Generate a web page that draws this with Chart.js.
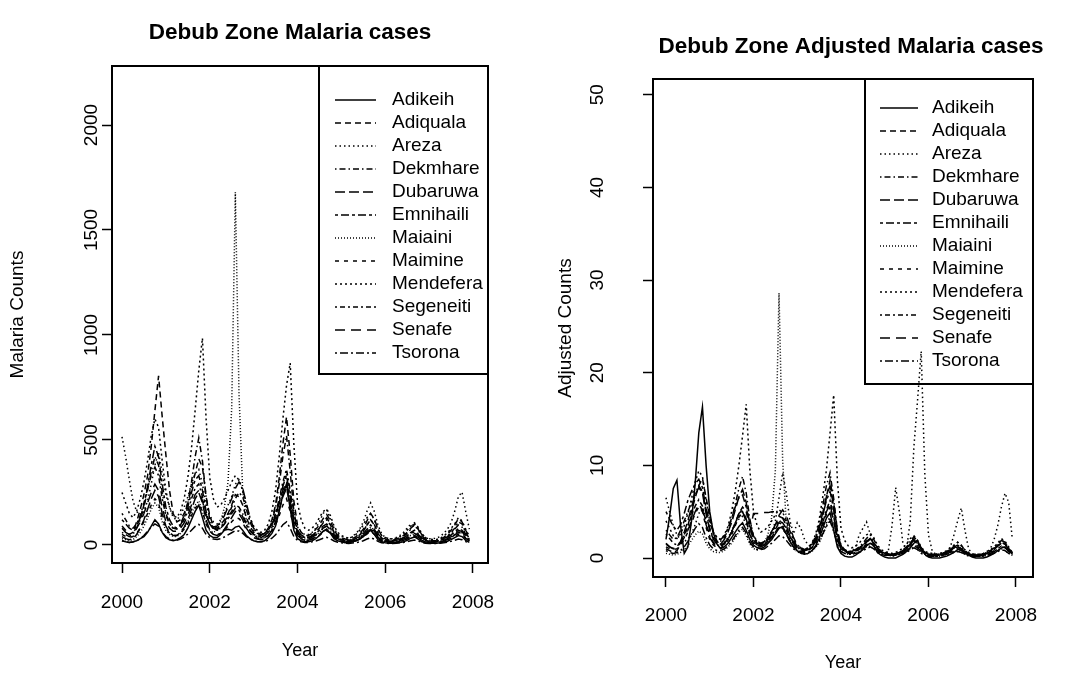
<!DOCTYPE html>
<html>
<head>
<meta charset="utf-8">
<script src="https://cdn.jsdelivr.net/npm/chart.js@4.4.1/dist/chart.umd.min.js"></script>
<style>
  body { margin: 0; background: #fff; }
  #wrap { position: relative; width: 1088px; height: 677px; }
  #chartLeft { position: absolute; left: 0; top: 0; }
  #chartRight { position: absolute; left: 544px; top: 0; }
</style>
</head>
<body>
<div id="wrap">
  <canvas id="chartLeft" width="544" height="677"></canvas>
  <canvas id="chartRight" width="544" height="677"></canvas>
</div>
<script>
// monthly data, Jan 2000 .. Dec 2007
const startYear = 2000;
const zones = ['Adikeih', 'Adiquala', 'Areza', 'Dekmhare', 'Dubaruwa', 'Emnihaili',
               'Maiaini', 'Maimine', 'Mendefera', 'Segeneiti', 'Senafe', 'Tsorona'];
const yearTicks = [2000, 2002, 2004, 2006, 2008];
const countTicks = [0, 500, 1000, 1500, 2000];
const adjTicks = [0, 10, 20, 30, 40, 50];

// ---- raw counts ----
const countsAdikeih = [
  20,15,12,15,20,30,40,60,90,120,100,60,
  35,25,20,25,35,50,80,120,160,190,130,70,
  45,35,35,50,70,75,70,85,90,70,45,30,
  20,15,15,20,35,55,90,160,240,290,170,70,
  30,20,15,15,20,30,45,65,75,55,30,20,
  15,10,10,15,20,30,40,55,70,50,25,15,
  10,8,8,10,12,15,22,32,38,28,15,10,
  8,8,8,10,14,18,25,35,45,40,22,12];
const countsAdiquala = [
  90,70,50,60,110,170,240,330,470,640,805,610,
  430,260,150,110,120,150,200,270,340,410,370,230,
  140,90,80,95,120,150,190,240,230,190,130,90,
  60,50,45,55,80,120,190,320,480,610,430,210,
  95,60,45,45,55,75,95,125,145,115,70,45,
  35,28,25,30,40,55,75,115,150,125,75,45,
  28,24,22,28,35,45,60,80,95,75,45,28,
  22,20,20,26,36,50,70,95,125,110,70,38];
const countsAreza = [
  515,420,310,210,160,140,160,210,290,380,440,340,
  240,180,130,120,140,180,230,290,340,360,290,190,
  140,110,100,120,150,190,230,290,310,260,180,110,
  80,60,50,55,75,100,150,210,290,340,250,150,
  85,60,50,50,60,80,110,150,165,125,80,50,
  40,35,30,40,55,75,110,160,200,160,95,55,
  35,30,30,35,45,60,80,100,92,72,50,35,
  30,30,32,40,55,75,105,160,230,252,160,75];
const countsDekmhare = [
  60,50,40,50,80,120,180,260,350,420,380,250,
  150,100,80,80,100,140,200,300,420,510,400,230,
  120,80,70,80,100,130,160,190,180,150,100,70,
  50,40,35,45,70,110,180,290,420,520,350,160,
  70,45,35,35,45,60,80,110,130,100,60,35,
  25,20,18,22,30,45,65,95,120,95,55,30,
  20,18,16,20,26,35,45,60,70,55,35,22,
  18,16,16,20,28,40,55,75,95,85,50,28];
const countsDubaruwa = [
  40,30,25,30,50,80,120,170,220,260,230,150,
  90,60,45,45,60,85,120,170,220,250,200,120,
  70,50,45,55,75,100,130,160,150,120,80,55,
  35,28,25,30,45,70,110,170,230,270,190,90,
  45,30,22,22,28,38,50,65,75,60,38,25,
  18,14,12,15,20,28,40,60,75,60,35,20,
  14,12,11,13,16,22,30,40,45,36,22,15,
  12,11,11,13,18,25,35,48,60,55,32,18];
const countsEmnihaili = [
  120,100,80,70,90,130,190,280,380,470,420,290,
  180,120,90,80,95,130,180,250,310,330,260,160,
  100,75,70,80,100,125,150,175,165,135,95,70,
  50,42,38,45,60,85,130,200,280,330,230,120,
  60,42,35,35,42,55,70,90,100,80,50,35,
  28,22,20,24,30,40,55,75,95,75,45,28,
  22,19,18,22,26,34,44,56,62,50,32,22,
  18,17,17,21,27,36,48,62,78,70,42,24];
const countsMaiaini = [
  30,25,20,25,40,60,90,130,170,200,180,110,
  70,50,40,40,55,80,110,150,190,210,160,100,
  70,60,70,110,180,300,650,1680,720,260,120,70,
  45,35,30,35,50,75,110,170,240,290,200,100,
  50,35,28,28,35,45,60,80,90,70,45,30,
  22,18,16,20,26,36,50,70,85,70,40,24,
  18,15,14,17,22,28,36,46,52,42,26,18,
  15,14,14,17,22,30,40,52,65,58,35,20];
const countsMaimine = [
  50,40,35,40,55,80,110,150,190,220,200,130,
  80,55,45,45,55,75,100,140,175,195,160,100,
  65,50,48,55,70,90,110,130,125,105,75,55,
  40,32,30,35,45,65,95,140,190,220,160,80,
  40,28,22,22,28,36,46,60,68,55,35,24,
  18,15,13,16,20,28,38,52,64,52,32,20,
  15,13,12,14,17,22,28,36,40,33,22,15,
  12,12,12,14,18,24,32,42,52,48,30,17];
const countsMendefera = [
  250,200,150,130,160,220,300,400,520,600,560,400,
  260,180,140,130,160,220,320,460,640,830,985,600,
  320,220,180,190,220,260,300,330,310,260,190,130,
  90,70,60,70,100,160,260,420,600,760,866,480,
  200,120,80,70,80,100,130,160,170,140,90,60,
  45,38,32,38,50,70,95,130,150,120,75,45,
  35,30,28,32,40,52,70,90,105,85,55,35,
  28,26,26,32,42,58,78,100,130,115,75,40];
const countsSegeneiti = [
  150,120,90,80,100,140,200,270,330,370,330,220,
  140,100,80,75,90,120,160,220,270,290,230,150,
  100,80,75,85,110,140,180,220,250,230,170,110,
  70,55,50,55,70,100,150,220,300,360,260,130,
  70,48,38,38,46,60,80,105,120,95,60,40,
  30,25,22,26,34,48,66,95,120,98,58,34,
  24,21,20,24,30,40,55,75,100,80,48,28,
  20,19,19,23,30,42,58,80,110,100,60,30];
const countsSenafe = [
  80,60,50,60,80,110,150,200,250,290,260,180,
  110,80,65,65,80,105,140,190,240,260,210,140,
  100,85,90,110,140,180,220,270,300,270,200,130,
  80,60,50,55,70,95,140,200,260,300,210,110,
  55,38,30,30,36,48,62,80,90,72,45,30,
  22,18,16,19,25,34,46,64,80,65,38,22,
  17,15,14,17,21,28,36,48,55,44,28,18,
  14,14,14,17,22,30,40,54,70,64,38,20];
const countsTsorona = [
  20,15,12,14,20,30,45,65,85,100,90,60,
  40,28,22,22,28,38,52,70,88,98,80,50,
  35,28,26,30,38,48,58,68,66,56,40,28,
  20,16,15,17,22,32,48,72,96,110,80,40,
  22,15,12,12,15,19,25,32,36,29,19,13,
  10,8,7,9,11,15,20,28,34,28,17,10,
  8,7,7,8,10,12,16,20,23,19,12,8,
  7,7,7,8,10,13,17,22,28,25,16,9];

// ---- adjusted counts ----
const adjAdikeih = [
  2.0,4.5,7.5,8.4,3.5,0.5,1.2,4.0,8.0,13.5,16.3,10.0,
  5.0,2.7,1.5,1.0,1.2,1.6,2.2,2.8,3.4,3.8,3.0,2.0,
  1.4,1.1,1.0,1.2,1.6,2.0,2.6,3.2,3.4,2.6,1.8,1.2,
  0.8,0.5,0.4,0.5,0.8,1.3,2.1,3.2,4.3,4.9,3.0,1.2,
  0.5,0.2,0.1,0.1,0.3,0.6,0.9,1.3,1.6,1.3,0.6,0.3,
  0.1,0.0,0.0,0.0,0.2,0.4,0.7,1.1,1.6,1.9,1.0,0.4,
  0.1,0.0,0.0,0.0,0.1,0.2,0.4,0.6,0.9,1.0,0.6,0.3,
  0.1,0.0,0.0,0.0,0.1,0.3,0.5,0.8,1.1,1.2,0.8,0.4];
const adjAdiquala = [
  1.0,0.8,0.6,0.8,1.5,2.5,3.5,5.0,6.5,7.8,8.6,6.5,
  4.5,2.8,1.8,1.4,1.6,2.0,2.8,3.8,4.8,5.5,5.0,3.2,
  2.0,1.4,1.2,1.4,1.8,2.2,2.8,3.4,3.2,2.6,1.8,1.2,
  0.9,0.7,0.6,0.8,1.1,1.7,2.7,4.4,6.6,8.4,6.0,2.9,
  1.3,0.8,0.6,0.6,0.8,1.0,1.3,1.7,2.0,1.6,1.0,0.6,
  0.5,0.4,0.3,0.4,0.6,0.8,1.0,1.6,2.1,1.7,1.0,0.6,
  0.4,0.3,0.3,0.4,0.5,0.6,0.8,1.1,1.3,1.0,0.6,0.4,
  0.3,0.3,0.3,0.4,0.5,0.7,1.0,1.3,1.7,1.5,1.0,0.5];
const adjAreza = [
  6.5,5.0,3.5,2.5,2.0,1.8,2.0,2.6,3.6,4.8,5.5,4.2,
  3.0,2.2,1.6,1.5,1.7,2.2,2.9,3.6,4.2,4.5,3.6,2.4,
  1.8,1.4,1.3,1.5,1.9,2.6,4.0,6.5,9.2,7.0,4.0,2.6,
  3.8,3.2,2.0,1.4,1.2,1.5,2.0,2.8,3.8,4.4,3.2,1.9,
  1.1,0.8,0.6,0.7,1.2,2.5,3.2,3.9,2.6,1.5,0.8,0.5,
  0.4,0.8,3.5,7.6,5.0,1.5,1.0,4.0,12.0,17.0,22.3,9.0,
  2.5,0.8,0.4,0.3,0.4,0.7,1.2,2.5,4.0,5.4,3.0,1.0,
  0.4,0.3,0.3,0.4,0.6,1.0,2.0,3.5,5.5,7.0,6.0,2.0];
const adjDekmhare = [
  3.0,2.5,2.0,2.2,3.0,4.0,5.0,6.0,7.0,7.8,7.2,5.0,
  3.2,2.2,1.8,1.8,2.2,3.0,4.2,5.8,7.5,8.8,7.0,4.2,
  2.4,1.7,1.5,1.7,2.1,2.7,3.3,3.8,3.6,3.0,2.1,1.5,
  1.1,0.9,0.8,1.0,1.5,2.3,3.6,5.6,7.8,9.2,6.4,3.0,
  1.4,0.9,0.7,0.7,0.9,1.2,1.6,2.1,2.5,2.0,1.2,0.7,
  0.5,0.4,0.3,0.4,0.6,0.9,1.2,1.8,2.3,1.8,1.1,0.6,
  0.4,0.3,0.3,0.4,0.5,0.7,0.9,1.2,1.4,1.1,0.7,0.4,
  0.3,0.3,0.3,0.4,0.5,0.8,1.1,1.5,1.9,1.7,1.0,0.5];
const adjDubaruwa = [
  1.5,1.2,1.0,1.2,1.8,2.8,4.0,5.5,6.8,7.6,7.0,4.8,
  3.0,2.0,1.5,1.5,2.0,2.8,3.8,5.2,6.6,7.4,6.0,3.6,
  2.2,1.6,1.4,1.6,2.1,2.8,3.6,4.5,4.3,3.5,2.4,1.7,
  1.1,0.9,0.8,0.9,1.3,2.0,3.2,4.9,6.6,7.8,5.5,2.6,
  1.2,0.8,0.6,0.6,0.8,1.0,1.4,1.8,2.1,1.7,1.1,0.7,
  0.5,0.4,0.3,0.4,0.5,0.7,1.0,1.5,1.9,1.5,0.9,0.5,
  0.4,0.3,0.3,0.3,0.4,0.6,0.8,1.0,1.2,1.0,0.6,0.4,
  0.3,0.3,0.3,0.3,0.5,0.7,0.9,1.3,1.6,1.5,0.9,0.5];
const adjEmnihaili = [
  5.0,4.2,3.4,3.0,3.6,4.8,6.2,7.2,8.0,8.5,7.6,5.4,
  3.8,2.8,2.2,2.0,2.4,3.2,4.3,5.5,6.5,6.8,5.5,3.6,
  2.4,1.8,1.6,1.8,2.3,2.9,3.5,4.0,3.8,3.2,2.3,1.7,
  1.2,1.0,0.9,1.1,1.5,2.1,3.1,4.6,6.2,7.2,5.2,2.6,
  1.3,0.9,0.7,0.7,0.9,1.1,1.4,1.8,2.0,1.6,1.1,0.7,
  0.6,0.5,0.4,0.5,0.6,0.8,1.1,1.5,1.9,1.6,1.0,0.6,
  0.5,0.4,0.4,0.4,0.5,0.7,0.9,1.1,1.2,1.0,0.7,0.5,
  0.4,0.4,0.4,0.4,0.6,0.8,1.0,1.3,1.6,1.5,1.0,0.6];
const adjMaiaini = [
  0.5,0.4,0.3,0.4,0.6,0.9,1.3,1.9,2.5,2.9,2.6,1.6,
  1.0,0.7,0.6,0.6,0.8,1.2,1.6,2.2,2.8,3.1,2.4,1.5,
  1.0,0.9,1.0,1.6,2.6,4.4,9.5,28.6,10.5,3.8,1.8,1.0,
  0.7,0.5,0.4,0.5,0.7,1.1,1.6,2.5,3.5,4.2,2.9,1.5,
  0.7,0.5,0.4,0.4,0.5,0.7,0.9,1.2,1.3,1.0,0.7,0.4,
  0.3,0.3,0.2,0.3,0.4,0.5,0.7,1.0,1.2,1.0,0.6,0.4,
  0.3,0.2,0.2,0.2,0.3,0.4,0.5,0.7,0.8,0.6,0.4,0.3,
  0.2,0.2,0.2,0.2,0.3,0.4,0.6,0.8,1.0,0.8,0.5,0.3];
const adjMaimine = [
  1.2,1.0,0.9,1.0,1.4,2.0,2.8,3.8,4.8,5.5,5.0,3.3,
  2.0,1.4,1.1,1.1,1.4,1.9,2.5,3.5,4.4,4.9,4.0,2.5,
  1.6,1.2,1.2,1.4,1.8,2.3,2.8,3.3,3.1,2.6,1.9,1.4,
  1.0,0.8,0.7,0.9,1.1,1.6,2.4,3.5,4.7,5.5,4.0,2.0,
  1.0,0.7,0.5,0.5,0.7,0.9,1.1,1.5,1.7,1.4,0.9,0.6,
  0.4,0.4,0.3,0.4,0.5,0.7,0.9,1.3,1.6,1.3,0.8,0.5,
  0.4,0.3,0.3,0.3,0.4,0.5,0.7,0.9,1.0,0.8,0.5,0.4,
  0.3,0.3,0.3,0.3,0.4,0.6,0.8,1.0,1.3,1.2,0.8,0.4];
const adjMendefera = [
  4.0,3.2,2.4,2.1,2.6,3.5,4.8,6.4,8.2,9.4,8.8,6.2,
  4.0,2.8,2.2,2.0,2.5,3.4,5.0,7.2,10.0,13.2,16.6,9.5,
  5.0,3.5,2.8,3.0,3.4,4.0,4.7,5.2,4.9,4.1,3.0,2.0,
  1.4,1.1,0.9,1.1,1.6,2.5,4.1,6.6,9.5,13.5,17.6,8.5,
  3.2,1.9,1.3,1.1,1.3,1.6,2.1,2.5,2.7,2.2,1.4,0.9,
  0.7,0.6,0.5,0.6,0.8,1.1,1.5,2.1,2.4,1.9,1.2,0.7,
  0.6,0.5,0.4,0.5,0.6,0.8,1.1,1.4,1.7,1.3,0.9,0.6,
  0.4,0.4,0.4,0.5,0.7,0.9,1.2,1.6,2.1,1.8,1.2,0.6];
const adjSegeneiti = [
  2.6,2.1,1.6,1.4,1.7,2.4,3.4,4.6,5.6,6.3,5.6,3.8,
  2.4,1.7,1.4,1.3,1.5,2.1,2.8,3.8,4.6,5.0,4.0,2.6,
  1.7,1.4,1.3,1.5,1.9,2.4,3.1,3.8,4.3,4.0,2.9,1.9,
  1.2,0.9,0.9,0.9,1.2,1.7,2.6,3.8,5.2,6.2,4.5,2.2,
  1.2,0.8,0.7,0.7,0.8,1.0,1.4,1.8,2.1,1.6,1.0,0.7,
  0.5,0.4,0.4,0.4,0.6,0.8,1.1,1.6,2.1,1.7,1.0,0.6,
  0.4,0.4,0.3,0.4,0.5,0.7,0.9,1.3,1.7,1.4,0.8,0.5,
  0.3,0.3,0.3,0.4,0.5,0.7,1.0,1.4,1.9,1.7,1.0,0.5];
const adjSenafe = [
  1.6,1.2,1.0,1.2,1.6,2.2,3.0,4.0,5.0,5.8,5.2,3.6,
  2.2,1.6,1.3,1.3,1.6,2.1,2.8,3.8,4.8,5.2,4.2,2.8,
  4.8,4.8,4.8,4.9,4.9,5.0,5.0,4.6,5.2,4.6,3.4,2.2,
  1.4,1.1,0.9,1.0,1.3,1.8,2.6,3.8,5.0,5.8,4.0,2.0,
  1.0,0.7,0.5,0.5,0.6,0.8,1.1,1.4,1.6,1.3,0.8,0.5,
  0.4,0.3,0.3,0.3,0.4,0.6,0.8,1.1,1.4,1.1,0.7,0.4,
  0.3,0.3,0.2,0.3,0.4,0.5,0.6,0.8,1.0,0.8,0.5,0.3,
  0.2,0.2,0.2,0.3,0.4,0.5,0.7,1.0,1.2,1.1,0.7,0.4];
const adjTsorona = [
  0.8,0.6,0.5,0.6,0.8,1.2,1.8,2.5,3.2,3.7,3.3,2.2,
  1.4,1.0,0.8,0.8,1.0,1.3,1.8,2.4,3.0,3.3,2.7,1.7,
  1.2,0.9,0.9,1.0,1.3,1.6,2.0,2.4,2.3,1.9,1.4,1.0,
  0.7,0.6,0.5,0.6,0.8,1.2,1.8,2.6,3.4,4.0,2.9,1.5,
  0.7,0.5,0.4,0.4,0.5,0.6,0.8,1.0,1.2,1.0,0.6,0.4,
  0.3,0.3,0.2,0.3,0.4,0.5,0.6,0.9,1.1,0.9,0.5,0.3,
  0.2,0.2,0.2,0.2,0.3,0.4,0.5,0.6,0.7,0.6,0.4,0.2,
  0.2,0.2,0.2,0.2,0.3,0.4,0.5,0.7,0.9,0.8,0.5,0.3];

const countsSeries = [countsAdikeih, countsAdiquala, countsAreza, countsDekmhare, countsDubaruwa, countsEmnihaili,
                      countsMaiaini, countsMaimine, countsMendefera, countsSegeneiti, countsSenafe, countsTsorona];
const adjSeries = [adjAdikeih, adjAdiquala, adjAreza, adjDekmhare, adjDubaruwa, adjEmnihaili,
                   adjMaiaini, adjMaimine, adjMendefera, adjSegeneiti, adjSenafe, adjTsorona];

// line types (R lty look-alikes)
const lineDashes = [[], [6, 4], [1.5, 3], [1.5, 3, 6, 3], [10, 4], [3, 3, 8, 3],
                    [1, 2], [4, 5], [2, 3], [2, 3, 5, 3], [10, 6], [2, 3, 8, 3]];

const FONT = 'Liberation Sans, Arial, Helvetica, sans-serif';

// frame, rotated y labels, title and legend in R style
const rStyle = {
  id: 'rStyle',
  afterDraw(chart, args, o) {
    const ctx = chart.ctx;
    const a = chart.chartArea;
    ctx.save();
    ctx.strokeStyle = '#000';
    ctx.fillStyle = '#000';
    ctx.lineWidth = 2;
    ctx.strokeRect(a.left, a.top, a.right - a.left, a.bottom - a.top);

    // y tick labels, parallel to the axis
    const ys = chart.scales.y;
    ctx.font = '19px ' + FONT;
    ctx.textAlign = 'center';
    ctx.textBaseline = 'middle';
    ys.ticks.forEach(t => {
      ctx.save();
      ctx.translate(o.yLabelX, ys.getPixelForValue(t.value));
      ctx.rotate(-Math.PI / 2);
      ctx.fillText(String(t.value), 0, 0);
      ctx.restore();
    });

    // title
    ctx.font = 'bold 22.5px ' + FONT;
    ctx.fillText(o.title, o.titleX, o.titleY);

    // legend (transparent, clipped to the plot region)
    const lg = o.legend;
    ctx.save();
    ctx.beginPath();
    ctx.rect(a.left, a.top, a.right - a.left, a.bottom - a.top);
    ctx.clip();
    ctx.lineWidth = 2;
    ctx.strokeRect(lg.left, a.top, a.right - lg.left, lg.bottom - a.top);
    ctx.font = '19px ' + FONT;
    ctx.textAlign = 'left';
    chart.data.datasets.forEach((ds, i) => {
      const y = lg.firstRow + i * lg.rowGap;
      ctx.lineWidth = 1.6;
      ctx.setLineDash(ds.borderDash);
      ctx.beginPath();
      ctx.moveTo(lg.lineX0, y);
      ctx.lineTo(lg.lineX1, y);
      ctx.stroke();
      ctx.setLineDash([]);
      ctx.fillText(ds.label, lg.textX, y);
    });
    ctx.restore();
    ctx.restore();
  }
};

function makeChart(id, seriesList, yTickValues, cfg) {
  const datasets = seriesList.map((vals, k) => ({
    label: zones[k],
    data: vals.map((v, i) => ({x: startYear + i / 12, y: v})),
    borderColor: '#000',
    borderWidth: 1.5,
    borderDash: lineDashes[k],
    pointRadius: 0,
    tension: 0,
    fill: false
  }));
  return new Chart(document.getElementById(id), {
    type: 'line',
    data: {datasets},
    options: {
      responsive: false,
      animation: false,
      layout: {padding: {top: cfg.top, right: cfg.right, bottom: 0, left: 0}},
      plugins: {legend: {display: false}, tooltip: {enabled: false}, rStyle: cfg.style},
      scales: {
        x: {
          type: 'linear',
          min: cfg.xMin, max: cfg.xMax,
          afterBuildTicks: s => { s.ticks = yearTicks.map(v => ({value: v})); },
          afterFit: s => { s.height = cfg.xAxisHeight; },
          grid: {drawOnChartArea: false, tickLength: 10, tickColor: '#000', tickWidth: 1.5},
          border: {display: false},
          ticks: {
            autoSkip: false, maxRotation: 0,
            padding: cfg.xTickPad, color: '#000', font: {family: FONT, size: 19},
            callback: v => String(v)
          },
          title: {display: true, text: 'Year', color: '#000', font: {family: FONT, size: 18},
                  padding: {top: 0, bottom: cfg.xTitlePad}}
        },
        y: {
          min: cfg.yMin, max: cfg.yMax,
          afterBuildTicks: s => { s.ticks = yTickValues.map(v => ({value: v})); },
          afterFit: s => { s.width = cfg.yAxisWidth; },
          grid: {drawOnChartArea: false, tickLength: 10, tickColor: '#000', tickWidth: 1.5},
          border: {display: false},
          ticks: {display: false},
          title: {display: true, text: cfg.yTitle, color: '#000', font: {family: FONT, size: 19},
                  padding: {top: cfg.yTitlePad, bottom: 0}}
        }
      }
    },
    plugins: [rStyle]
  });
}

// left: raw counts
makeChart('chartLeft', countsSeries, countTicks, {
  top: 66, right: 56, yAxisWidth: 112, xAxisHeight: 114,
  xMin: 1999.772, xMax: 2008.342, yMin: -86, yMax: 2281,
  xTickPad: 18, xTitlePad: 15, yTitlePad: 6.6, yTitle: 'Malaria Counts',
  style: {
    yLabelX: 92, title: 'Debub Zone Malaria cases', titleX: 290, titleY: 33,
    legend: {left: 319, bottom: 374, firstRow: 100, rowGap: 23, lineX0: 335, lineX1: 376, textX: 392}
  }
});

// right: adjusted counts
makeChart('chartRight', adjSeries, adjTicks, {
  top: 79, right: 55, yAxisWidth: 109, xAxisHeight: 100,
  xMin: 1999.703, xMax: 2008.389, yMin: -2.05, yMax: 51.7,
  xTickPad: 17, xTitlePad: 3, yTitlePad: 10.6, yTitle: 'Adjusted Counts',
  style: {
    yLabelX: 54, title: 'Debub Zone Adjusted Malaria cases', titleX: 307, titleY: 47,
    legend: {left: 321, bottom: 384, firstRow: 108, rowGap: 23, lineX0: 336, lineX1: 374, textX: 388}
  }
});
</script>
</body>
</html>
